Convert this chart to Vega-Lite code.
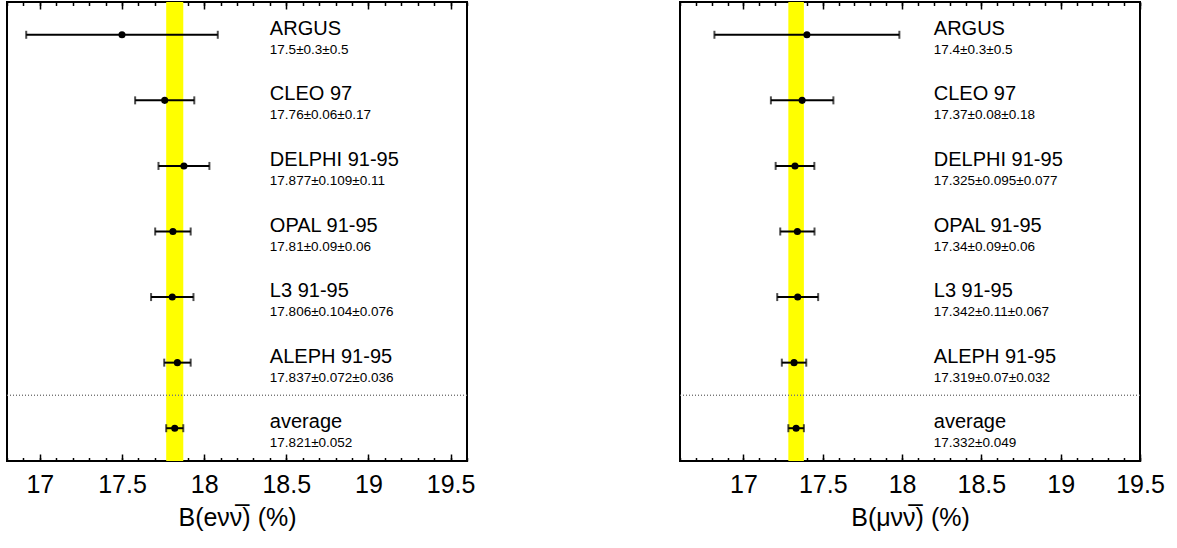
{
  "$schema": "https://vega.github.io/schema/vega-lite/v6.json",
  "padding": {"left": 5, "top": 0, "right": 0, "bottom": 0},
  "spacing": 213,
  "bounds": "flush",
  "datasets": {
    "e": [
      {"name": "ARGUS", "val": "17.5±0.3±0.5", "order": 1, "x": 17.5, "lo": 16.917, "hi": 18.083},
      {"name": "CLEO 97", "val": "17.76±0.06±0.17", "order": 2, "x": 17.76, "lo": 17.580, "hi": 17.940},
      {"name": "DELPHI 91-95", "val": "17.877±0.109±0.11", "order": 3, "x": 17.877, "lo": 17.722, "hi": 18.032},
      {"name": "OPAL 91-95", "val": "17.81±0.09±0.06", "order": 4, "x": 17.81, "lo": 17.702, "hi": 17.918},
      {"name": "L3 91-95", "val": "17.806±0.104±0.076", "order": 5, "x": 17.806, "lo": 17.677, "hi": 17.935},
      {"name": "ALEPH 91-95", "val": "17.837±0.072±0.036", "order": 6, "x": 17.837, "lo": 17.757, "hi": 17.918},
      {"name": "average", "val": "17.821±0.052", "order": 7, "x": 17.821, "lo": 17.769, "hi": 17.873}
    ],
    "mu": [
      {"name": "ARGUS", "val": "17.4±0.3±0.5", "order": 1, "x": 17.4, "lo": 16.817, "hi": 17.983},
      {"name": "CLEO 97", "val": "17.37±0.08±0.18", "order": 2, "x": 17.37, "lo": 17.173, "hi": 17.567},
      {"name": "DELPHI 91-95", "val": "17.325±0.095±0.077", "order": 3, "x": 17.325, "lo": 17.203, "hi": 17.447},
      {"name": "OPAL 91-95", "val": "17.34±0.09±0.06", "order": 4, "x": 17.34, "lo": 17.232, "hi": 17.448},
      {"name": "L3 91-95", "val": "17.342±0.11±0.067", "order": 5, "x": 17.342, "lo": 17.213, "hi": 17.471},
      {"name": "ALEPH 91-95", "val": "17.319±0.07±0.032", "order": 6, "x": 17.319, "lo": 17.242, "hi": 17.396},
      {"name": "average", "val": "17.332±0.049", "order": 7, "x": 17.332, "lo": 17.283, "hi": 17.381}
    ]
  },
  "hconcat": [
    {
      "width": 460,
      "height": 459,
      "data": {"name": "e"},
      "resolve": {"axis": {"x": "independent"}},
      "layer": [
        {
          "transform": [{"filter": "datum.name === 'average'"}],
          "mark": {"type": "rect", "color": "#ffff00"},
          "encoding": {
            "x": {"field": "lo", "type": "quantitative", "scale": {"domain": [16.8, 19.6], "nice": false, "zero": false},
              "axis": {"orient": "bottom", "values": [17, 17.5, 18, 18.5, 19, 19.5], "format": "~g", "offset": -7, "tickSize": 7, "labelFontSize": 25, "labelPadding": 11, "labelFlush": false, "labelOverlap": false, "title": "B(eνν̅) (%)", "titleFontSize": 25, "titlePadding": 8}},
            "x2": {"field": "hi"}
          }
        },
        {
          "mark": {"type": "rule", "color": "#777777", "strokeDash": [1, 2], "strokeWidth": 1},
          "encoding": {"y": {"datum": 6.5, "type": "quantitative", "scale": {"domain": [0.5, 7.5], "reverse": true, "nice": false, "zero": false}, "axis": null}}
        },
        {
          "mark": {"type": "rule", "color": "black", "strokeWidth": 2},
          "encoding": {
            "x": {"field": "lo", "type": "quantitative", "scale": {"domain": [16.8, 19.6], "nice": false, "zero": false},
              "axis": {"orient": "top", "values": [17, 17.5, 18, 18.5, 19, 19.5], "offset": -7, "tickSize": 7, "labels": false, "title": null}},
            "x2": {"field": "hi"},
            "y": {"field": "order", "type": "quantitative", "scale": {"domain": [0.5, 7.5], "reverse": true, "nice": false, "zero": false}, "axis": null}
          }
        },
        {
          "mark": {"type": "tick", "orient": "vertical", "color": "black", "size": 8, "thickness": 2},
          "encoding": {
            "x": {"field": "lo", "type": "quantitative", "scale": {"domain": [16.8, 19.6], "nice": false, "zero": false},
              "axis": {"orient": "bottom", "values": [16.8, 16.9, 17.0, 17.1, 17.2, 17.3, 17.4, 17.5, 17.6, 17.7, 17.8, 17.9, 18.0, 18.1, 18.2, 18.3, 18.4, 18.5, 18.6, 18.7, 18.8, 18.9, 19.0, 19.1, 19.2, 19.3, 19.4, 19.5, 19.6], "offset": -3.5, "tickSize": 3.5, "labels": false, "title": null}},
            "y": {"field": "order", "type": "quantitative", "axis": null}
          }
        },
        {
          "mark": {"type": "tick", "orient": "vertical", "color": "black", "size": 8, "thickness": 2},
          "encoding": {
            "x": {"field": "hi", "type": "quantitative", "scale": {"domain": [16.8, 19.6], "nice": false, "zero": false},
              "axis": {"orient": "top", "values": [16.8, 16.9, 17.0, 17.1, 17.2, 17.3, 17.4, 17.5, 17.6, 17.7, 17.8, 17.9, 18.0, 18.1, 18.2, 18.3, 18.4, 18.5, 18.6, 18.7, 18.8, 18.9, 19.0, 19.1, 19.2, 19.3, 19.4, 19.5, 19.6], "offset": -3.5, "tickSize": 3.5, "labels": false, "title": null}},
            "y": {"field": "order", "type": "quantitative", "axis": null}
          }
        },
        {
          "mark": {"type": "point", "filled": true, "color": "black", "opacity": 1, "size": 50},
          "encoding": {
            "x": {"field": "x", "type": "quantitative", "axis": null},
            "y": {"field": "order", "type": "quantitative", "axis": null}
          }
        },
        {
          "mark": {"type": "text", "align": "left", "baseline": "alphabetic", "fontSize": 20, "color": "black"},
          "encoding": {
            "x": {"datum": 18.4, "type": "quantitative", "axis": null},
            "y": {"field": "order", "type": "quantitative", "axis": null},
            "text": {"field": "name"}
          }
        },
        {
          "mark": {"type": "text", "align": "left", "baseline": "alphabetic", "fontSize": 13.5, "dy": 19, "color": "black"},
          "encoding": {
            "x": {"datum": 18.4, "type": "quantitative", "axis": null},
            "y": {"field": "order", "type": "quantitative", "axis": null},
            "text": {"field": "val"}
          }
        }
      ]
    },
    {
      "width": 460,
      "height": 459,
      "data": {"name": "mu"},
      "resolve": {"axis": {"x": "independent"}},
      "layer": [
        {
          "transform": [{"filter": "datum.name === 'average'"}],
          "mark": {"type": "rect", "color": "#ffff00"},
          "encoding": {
            "x": {"field": "lo", "type": "quantitative", "scale": {"domain": [16.6, 19.5], "nice": false, "zero": false},
              "axis": {"orient": "bottom", "values": [17, 17.5, 18, 18.5, 19, 19.5], "format": "~g", "offset": -7, "tickSize": 7, "labelFontSize": 25, "labelPadding": 11, "labelFlush": false, "labelOverlap": false, "title": "B(μνν̅) (%)", "titleFontSize": 25, "titlePadding": 8}},
            "x2": {"field": "hi"}
          }
        },
        {
          "mark": {"type": "rule", "color": "#777777", "strokeDash": [1, 2], "strokeWidth": 1},
          "encoding": {"y": {"datum": 6.5, "type": "quantitative", "scale": {"domain": [0.5, 7.5], "reverse": true, "nice": false, "zero": false}, "axis": null}}
        },
        {
          "mark": {"type": "rule", "color": "black", "strokeWidth": 2},
          "encoding": {
            "x": {"field": "lo", "type": "quantitative", "scale": {"domain": [16.6, 19.5], "nice": false, "zero": false},
              "axis": {"orient": "top", "values": [17, 17.5, 18, 18.5, 19, 19.5], "offset": -7, "tickSize": 7, "labels": false, "title": null}},
            "x2": {"field": "hi"},
            "y": {"field": "order", "type": "quantitative", "scale": {"domain": [0.5, 7.5], "reverse": true, "nice": false, "zero": false}, "axis": null}
          }
        },
        {
          "mark": {"type": "tick", "orient": "vertical", "color": "black", "size": 8, "thickness": 2},
          "encoding": {
            "x": {"field": "lo", "type": "quantitative", "scale": {"domain": [16.6, 19.5], "nice": false, "zero": false},
              "axis": {"orient": "bottom", "values": [16.6, 16.7, 16.8, 16.9, 17.0, 17.1, 17.2, 17.3, 17.4, 17.5, 17.6, 17.7, 17.8, 17.9, 18.0, 18.1, 18.2, 18.3, 18.4, 18.5, 18.6, 18.7, 18.8, 18.9, 19.0, 19.1, 19.2, 19.3, 19.4, 19.5], "offset": -3.5, "tickSize": 3.5, "labels": false, "title": null}},
            "y": {"field": "order", "type": "quantitative", "axis": null}
          }
        },
        {
          "mark": {"type": "tick", "orient": "vertical", "color": "black", "size": 8, "thickness": 2},
          "encoding": {
            "x": {"field": "hi", "type": "quantitative", "scale": {"domain": [16.6, 19.5], "nice": false, "zero": false},
              "axis": {"orient": "top", "values": [16.6, 16.7, 16.8, 16.9, 17.0, 17.1, 17.2, 17.3, 17.4, 17.5, 17.6, 17.7, 17.8, 17.9, 18.0, 18.1, 18.2, 18.3, 18.4, 18.5, 18.6, 18.7, 18.8, 18.9, 19.0, 19.1, 19.2, 19.3, 19.4, 19.5], "offset": -3.5, "tickSize": 3.5, "labels": false, "title": null}},
            "y": {"field": "order", "type": "quantitative", "axis": null}
          }
        },
        {
          "mark": {"type": "point", "filled": true, "color": "black", "opacity": 1, "size": 50},
          "encoding": {
            "x": {"field": "x", "type": "quantitative", "axis": null},
            "y": {"field": "order", "type": "quantitative", "axis": null}
          }
        },
        {
          "mark": {"type": "text", "align": "left", "baseline": "alphabetic", "fontSize": 20, "color": "black"},
          "encoding": {
            "x": {"datum": 18.2, "type": "quantitative", "axis": null},
            "y": {"field": "order", "type": "quantitative", "axis": null},
            "text": {"field": "name"}
          }
        },
        {
          "mark": {"type": "text", "align": "left", "baseline": "alphabetic", "fontSize": 13.5, "dy": 19, "color": "black"},
          "encoding": {
            "x": {"datum": 18.2, "type": "quantitative", "axis": null},
            "y": {"field": "order", "type": "quantitative", "axis": null},
            "text": {"field": "val"}
          }
        }
      ]
    }
  ],
  "config": {
    "font": "Liberation Sans",
    "view": {"stroke": "black", "strokeWidth": 2},
    "axis": {"domain": false, "grid": false, "tickColor": "black", "tickWidth": 1.5, "labelColor": "black", "titleColor": "black", "labelFont": "Liberation Sans", "titleFont": "Liberation Sans", "labelFontWeight": "normal", "titleFontWeight": "normal"}
  }
}
